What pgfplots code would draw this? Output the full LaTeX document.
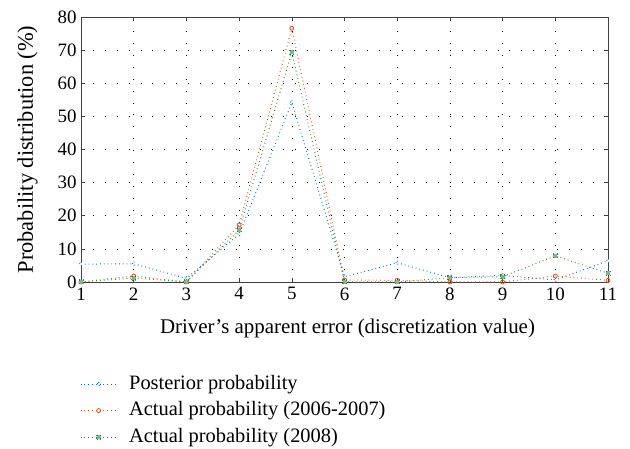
\documentclass[border=0pt]{standalone}
\usepackage{pgfplots}
\pgfplotsset{compat=1.18}
\usepackage{fontspec}
\setmainfont{Liberation Serif}
\definecolor{cblue}{RGB}{0,114,189}
\definecolor{corange}{RGB}{217,83,25}
\definecolor{cgreen}{RGB}{40,135,60}
\begin{document}
\begin{tikzpicture}[x=1bp,y=1bp,font=\fontsize{20}{24}\selectfont]
\useasboundingbox (0,0) rectangle (630,449);
\begin{axis}[
  at={(81bp,167bp)}, anchor=south west,
  scale only axis, width=527bp, height=265bp,
  xmin=1, xmax=11, ymin=0, ymax=80,
  xtick={1,...,11}, ytick={0,10,...,80},
  /pgf/number format/assume math mode=true,
  every tick label/.append style={font=\fontsize{19}{22}\selectfont},
  xticklabel style={yshift=-2bp},
  yticklabel style={xshift=-1bp},
  tick align=inside, major tick length=4bp,
  axis line style={draw=black!75, line width=0.8bp},
  tick style={black!75, line width=0.6bp},
  grid=major,
  major grid style={black, line width=0.6bp, dash pattern=on 0.9bp off 11bp},
  xlabel={Driver's apparent error (discretization value)},
  ylabel={Probability distribution (\%)},
  xlabel style={font=\fontsize{21}{25}\selectfont, yshift=-12bp, xshift=3bp},
  ylabel style={font=\fontsize{22.5}{26}\selectfont, yshift=13bp},
  legend style={at={(-0.002,-0.343)}, anchor=north west, draw=none, fill=none,
    font=\fontsize{20.5}{24}\selectfont, row sep=4.5bp, inner sep=0pt,
    nodes={font=\fontsize{20.5}{24}\selectfont, inner sep=1bp, text height=15bp, text depth=5bp},
    /tikz/every odd column/.append style={column sep=11bp}},
  legend cell align=left,
  legend image code/.code={\draw[mark repeat=2,mark phase=2,#1] plot coordinates {(0bp,0bp) (18bp,0bp) (36bp,0bp)};},
  every axis plot/.append style={line width=1bp, dash pattern=on 0.8bp off 3bp, mark size=2bp, mark options={solid, line width=0.8bp}},
  clip=false,
]
\addplot[cblue, mark=diamond*, mark options={fill=white}] coordinates {
(1,5.4) (2,5.5) (3,1.1) (4,14.4) (5,54.2) (6,1.6) (7,5.8) (8,1.3) (9,2.0) (10,0.6) (11,6.4)};
\addlegendentry{Posterior probability}
\addplot[corange, mark=o] coordinates {
(1,0) (2,1.8) (3,0) (4,17.2) (5,76.6) (6,0.6) (7,0.5) (8,0) (9,0) (10,1.8) (11,0.5)};
\addlegendentry{Actual probability (2006-2007)}
\addplot[cgreen, mark=square*, mark options={fill=cgreen!60}] coordinates {
(1,0) (2,1.2) (3,0) (4,15.7) (5,69.3) (6,0) (7,0) (8,1.3) (9,1.6) (10,7.9) (11,2.6)};
\addlegendentry{Actual probability (2008)}
\end{axis}
\end{tikzpicture}
\end{document}
